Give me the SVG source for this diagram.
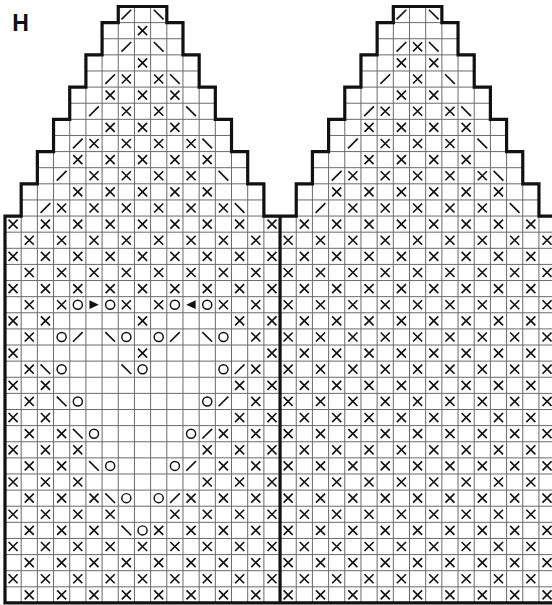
<svg xmlns="http://www.w3.org/2000/svg" xmlns:xlink="http://www.w3.org/1999/xlink" width="552" height="605" viewBox="0 0 552 605">
<style>
.grid{fill:none;stroke:#6a6a6a;stroke-width:1;vector-effect:non-scaling-stroke}
.outline{fill:none;stroke:#111;stroke-width:3.2;stroke-linejoin:miter;vector-effect:non-scaling-stroke}
.sym{fill:none;stroke:#111;stroke-width:0.1}
.ring{fill:none;stroke:#111;stroke-width:0.09}
.arr{fill:#111;stroke:none}
.lbl{font-family:"Liberation Sans",Arial,sans-serif;font-weight:bold;font-size:23px;fill:#111}
</style>
<defs>
<path id="x" class="sym" d="M0.22,0.22L0.78,0.78M0.78,0.22L0.22,0.78"/>
<path id="sl" class="sym" d="M0.2,0.8L0.8,0.2"/>
<path id="bs" class="sym" d="M0.2,0.2L0.8,0.8"/>
<circle id="o" class="ring" cx="0.5" cy="0.5" r="0.28"/>
<polygon id="tr" class="arr" points="0.22,0.23 0.8,0.5 0.22,0.77"/>
<polygon id="tl" class="arr" points="0.78,0.23 0.2,0.5 0.78,0.77"/>
<g id="Le"><use href="#x" x="0"/><use href="#x" x="2"/><use href="#x" x="4"/><use href="#x" x="6"/><use href="#x" x="8"/><use href="#x" x="10"/><use href="#x" x="12"/><use href="#x" x="14"/><use href="#x" x="16"/></g>
<g id="Lo"><use href="#x" x="1"/><use href="#x" x="3"/><use href="#x" x="5"/><use href="#x" x="7"/><use href="#x" x="9"/><use href="#x" x="11"/><use href="#x" x="13"/><use href="#x" x="15"/></g>
<g id="Re"><use href="#x" x="17"/><use href="#x" x="19"/><use href="#x" x="21"/><use href="#x" x="23"/><use href="#x" x="25"/><use href="#x" x="27"/><use href="#x" x="29"/><use href="#x" x="31"/><use href="#x" x="33"/></g>
<g id="Ro"><use href="#x" x="18"/><use href="#x" x="20"/><use href="#x" x="22"/><use href="#x" x="24"/><use href="#x" x="26"/><use href="#x" x="28"/><use href="#x" x="30"/><use href="#x" x="32"/></g>
</defs>
<rect width="552" height="605" fill="#fff"/>
<g id="label"><text class="lbl" x="12.3" y="30.7">H</text></g>
<g id="chart" transform="matrix(16.18,0,0,16.12,5,6.5)">
<g id="grid">
<path class="grid" d="M0,13V37M1,11V37M2,9V37M3,7V37M4,5V37M5,3V37M6,1V37M7,0V37M8,0V37M9,0V37M10,0V37M11,1V37M12,3V37M13,5V37M14,7V37M15,9V37M16,11V37M17,13V37M18,11V37M19,9V37M20,7V37M21,5V37M22,3V37M23,1V37M24,0V37M25,0V37M26,0V37M27,0V37M28,1V37M29,3V37M30,5V37M31,7V37M32,9V37M33,11V37M34,13V37"/>
<path class="grid" d="M6,1H11M6,2H11M5,3H12M5,4H12M4,5H13M4,6H13M3,7H14M3,8H14M2,9H15M2,10H15M1,11H16M1,12H16M23,1H28M23,2H28M22,3H29M22,4H29M21,5H30M21,6H30M20,7H31M20,8H31M19,9H32M19,10H32M18,11H33M18,12H33"/>
<path class="grid" d="M0,13H34M0,14H34M0,15H34M0,16H34M0,17H34M0,18H34M0,19H34M0,20H34M0,21H34M0,22H34M0,23H34M0,24H34M0,25H34M0,26H34M0,27H34M0,28H34M0,29H34M0,30H34M0,31H34M0,32H34M0,33H34M0,34H34M0,35H34M0,36H34"/>
</g>
<g id="left-triangle">
<use href="#sl" x="7" y="0"/><use href="#bs" x="9" y="0"/>
<use href="#x" x="8" y="1"/>
<use href="#sl" x="7" y="2"/><use href="#bs" x="9" y="2"/>
<use href="#x" x="8" y="3"/>
<use href="#sl" x="6" y="4"/><use href="#x" x="7" y="4"/><use href="#x" x="9" y="4"/><use href="#bs" x="10" y="4"/>
<use href="#x" x="6" y="5"/><use href="#x" x="8" y="5"/><use href="#x" x="10" y="5"/>
<use href="#sl" x="5" y="6"/><use href="#x" x="7" y="6"/><use href="#x" x="9" y="6"/><use href="#bs" x="11" y="6"/>
<use href="#x" x="6" y="7"/><use href="#x" x="8" y="7"/><use href="#x" x="10" y="7"/>
<use href="#sl" x="4" y="8"/><use href="#x" x="5" y="8"/><use href="#x" x="7" y="8"/><use href="#x" x="9" y="8"/><use href="#x" x="11" y="8"/><use href="#bs" x="12" y="8"/>
<use href="#x" x="4" y="9"/><use href="#x" x="6" y="9"/><use href="#x" x="8" y="9"/><use href="#x" x="10" y="9"/><use href="#x" x="12" y="9"/>
<use href="#sl" x="3" y="10"/><use href="#x" x="5" y="10"/><use href="#x" x="7" y="10"/><use href="#x" x="9" y="10"/><use href="#x" x="11" y="10"/><use href="#bs" x="13" y="10"/>
<use href="#x" x="4" y="11"/><use href="#x" x="6" y="11"/><use href="#x" x="8" y="11"/><use href="#x" x="10" y="11"/><use href="#x" x="12" y="11"/>
<use href="#sl" x="2" y="12"/><use href="#x" x="3" y="12"/><use href="#x" x="5" y="12"/><use href="#x" x="7" y="12"/><use href="#x" x="9" y="12"/><use href="#x" x="11" y="12"/><use href="#x" x="13" y="12"/><use href="#bs" x="14" y="12"/>
</g>
<g id="right-triangle">
<use href="#sl" x="24" y="0"/><use href="#bs" x="26" y="0"/>
<use href="#sl" x="24" y="2"/><use href="#x" x="25" y="2"/><use href="#bs" x="26" y="2"/>
<use href="#x" x="24" y="3"/><use href="#x" x="26" y="3"/>
<use href="#sl" x="23" y="4"/><use href="#x" x="25" y="4"/><use href="#bs" x="27" y="4"/>
<use href="#x" x="24" y="5"/><use href="#x" x="26" y="5"/>
<use href="#sl" x="22" y="6"/><use href="#x" x="23" y="6"/><use href="#x" x="25" y="6"/><use href="#x" x="27" y="6"/><use href="#bs" x="28" y="6"/>
<use href="#x" x="22" y="7"/><use href="#x" x="24" y="7"/><use href="#x" x="26" y="7"/><use href="#x" x="28" y="7"/>
<use href="#sl" x="21" y="8"/><use href="#x" x="23" y="8"/><use href="#x" x="25" y="8"/><use href="#x" x="27" y="8"/><use href="#bs" x="29" y="8"/>
<use href="#x" x="22" y="9"/><use href="#x" x="24" y="9"/><use href="#x" x="26" y="9"/><use href="#x" x="28" y="9"/>
<use href="#sl" x="20" y="10"/><use href="#x" x="21" y="10"/><use href="#x" x="23" y="10"/><use href="#x" x="25" y="10"/><use href="#x" x="27" y="10"/><use href="#x" x="29" y="10"/><use href="#bs" x="30" y="10"/>
<use href="#x" x="20" y="11"/><use href="#x" x="22" y="11"/><use href="#x" x="24" y="11"/><use href="#x" x="26" y="11"/><use href="#x" x="28" y="11"/><use href="#x" x="30" y="11"/>
<use href="#sl" x="19" y="12"/><use href="#x" x="21" y="12"/><use href="#x" x="23" y="12"/><use href="#x" x="25" y="12"/><use href="#x" x="27" y="12"/><use href="#x" x="29" y="12"/><use href="#bs" x="31" y="12"/>
</g>
<g id="left-body">
<use href="#Le" y="13"/><use href="#Lo" y="14"/><use href="#Le" y="15"/><use href="#Lo" y="16"/><use href="#Le" y="17"/>
<use href="#x" x="1" y="18"/><use href="#x" x="3" y="18"/><use href="#o" x="4" y="18"/><use href="#tr" x="5" y="18"/><use href="#o" x="6" y="18"/><use href="#x" x="7" y="18"/><use href="#x" x="9" y="18"/><use href="#o" x="10" y="18"/><use href="#tl" x="11" y="18"/><use href="#o" x="12" y="18"/><use href="#x" x="13" y="18"/><use href="#x" x="15" y="18"/>
<use href="#x" x="0" y="19"/><use href="#x" x="2" y="19"/><use href="#x" x="8" y="19"/><use href="#x" x="14" y="19"/><use href="#x" x="16" y="19"/>
<use href="#x" x="1" y="20"/><use href="#o" x="3" y="20"/><use href="#sl" x="4" y="20"/><use href="#bs" x="6" y="20"/><use href="#o" x="7" y="20"/><use href="#o" x="9" y="20"/><use href="#sl" x="10" y="20"/><use href="#bs" x="12" y="20"/><use href="#o" x="13" y="20"/><use href="#x" x="15" y="20"/>
<use href="#x" x="0" y="21"/><use href="#x" x="8" y="21"/><use href="#x" x="16" y="21"/>
<use href="#x" x="1" y="22"/><use href="#bs" x="2" y="22"/><use href="#o" x="3" y="22"/><use href="#bs" x="7" y="22"/><use href="#o" x="8" y="22"/><use href="#o" x="13" y="22"/><use href="#sl" x="14" y="22"/><use href="#x" x="15" y="22"/>
<use href="#x" x="0" y="23"/><use href="#x" x="2" y="23"/><use href="#x" x="14" y="23"/><use href="#x" x="16" y="23"/>
<use href="#x" x="1" y="24"/><use href="#bs" x="3" y="24"/><use href="#o" x="4" y="24"/><use href="#o" x="12" y="24"/><use href="#sl" x="13" y="24"/><use href="#x" x="15" y="24"/>
<use href="#x" x="0" y="25"/><use href="#x" x="2" y="25"/><use href="#x" x="14" y="25"/><use href="#x" x="16" y="25"/>
<use href="#x" x="1" y="26"/><use href="#x" x="3" y="26"/><use href="#bs" x="4" y="26"/><use href="#o" x="5" y="26"/><use href="#o" x="11" y="26"/><use href="#sl" x="12" y="26"/><use href="#x" x="13" y="26"/><use href="#x" x="15" y="26"/>
<use href="#x" x="0" y="27"/><use href="#x" x="2" y="27"/><use href="#x" x="4" y="27"/><use href="#x" x="12" y="27"/><use href="#x" x="14" y="27"/><use href="#x" x="16" y="27"/>
<use href="#x" x="1" y="28"/><use href="#x" x="3" y="28"/><use href="#bs" x="5" y="28"/><use href="#o" x="6" y="28"/><use href="#o" x="10" y="28"/><use href="#sl" x="11" y="28"/><use href="#x" x="13" y="28"/><use href="#x" x="15" y="28"/>
<use href="#x" x="0" y="29"/><use href="#x" x="2" y="29"/><use href="#x" x="4" y="29"/><use href="#x" x="12" y="29"/><use href="#x" x="14" y="29"/><use href="#x" x="16" y="29"/>
<use href="#x" x="1" y="30"/><use href="#x" x="3" y="30"/><use href="#x" x="5" y="30"/><use href="#bs" x="6" y="30"/><use href="#o" x="7" y="30"/><use href="#o" x="9" y="30"/><use href="#sl" x="10" y="30"/><use href="#x" x="11" y="30"/><use href="#x" x="13" y="30"/><use href="#x" x="15" y="30"/>
<use href="#x" x="0" y="31"/><use href="#x" x="2" y="31"/><use href="#x" x="4" y="31"/><use href="#x" x="6" y="31"/><use href="#x" x="10" y="31"/><use href="#x" x="12" y="31"/><use href="#x" x="14" y="31"/><use href="#x" x="16" y="31"/>
<use href="#x" x="1" y="32"/><use href="#x" x="3" y="32"/><use href="#x" x="5" y="32"/><use href="#bs" x="7" y="32"/><use href="#o" x="8" y="32"/><use href="#x" x="9" y="32"/><use href="#x" x="11" y="32"/><use href="#x" x="13" y="32"/><use href="#x" x="15" y="32"/>
<use href="#Le" y="33"/><use href="#Lo" y="34"/><use href="#Le" y="35"/><use href="#Lo" y="36"/>
</g>
<g id="right-body">
<use href="#Ro" y="13"/><use href="#Re" y="14"/><use href="#Ro" y="15"/><use href="#Re" y="16"/><use href="#Ro" y="17"/><use href="#Re" y="18"/><use href="#Ro" y="19"/><use href="#Re" y="20"/><use href="#Ro" y="21"/><use href="#Re" y="22"/><use href="#Ro" y="23"/><use href="#Re" y="24"/><use href="#Ro" y="25"/><use href="#Re" y="26"/><use href="#Ro" y="27"/><use href="#Re" y="28"/><use href="#Ro" y="29"/><use href="#Re" y="30"/><use href="#Ro" y="31"/><use href="#Re" y="32"/><use href="#Ro" y="33"/><use href="#Re" y="34"/><use href="#Ro" y="35"/><use href="#Re" y="36"/>
</g>
<g id="outline">
<path class="outline" d="M0,37V13H1V11H2V9H3V7H4V5H5V3H6V1H7V0H10V1H11V3H12V5H13V7H14V9H15V11H16V13H18V11H19V9H20V7H21V5H22V3H23V1H24V0H27V1H28V3H29V5H30V7H31V9H32V11H33V13H34V37Z"/>
<path class="outline" d="M17,13V37"/>
</g>
</g>
</svg>
